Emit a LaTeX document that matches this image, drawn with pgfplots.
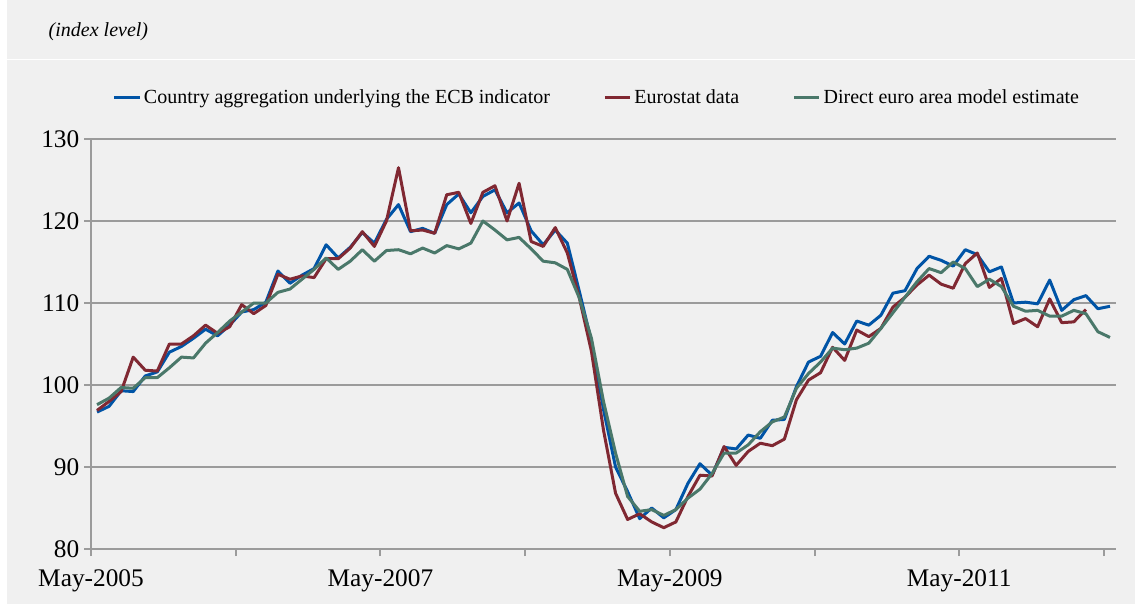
\documentclass[border=0pt]{standalone}
\usepackage{fontspec}
\setmainfont{Liberation Serif}
\usepackage{pgfplots}
\usepackage{pgfplotstable}
\pgfplotsset{compat=1.18}

\definecolor{bgc}{RGB}{240,240,240}
\definecolor{ecbblue}{RGB}{0,84,166}
\definecolor{eured}{RGB}{128,40,50}
\definecolor{modgreen}{RGB}{74,120,106}
\definecolor{gridc}{RGB}{155,155,155}

% month index (0 = May 2005), ECB country aggregation, Eurostat, direct model
\pgfplotstableread{
i  blue  red   green
0  96.7  96.9  97.6
1  97.4  98.0  98.4
2  99.3  99.2  99.7
3  99.2  103.4 99.6
4  101.1 101.8 100.9
5  101.6 101.7 100.9
6  104.0 105.0 102.1
7  104.7 105.0 103.4
8  105.7 106.0 103.3
9  106.8 107.3 105.1
10 106.0 106.3 106.4
11 107.3 107.1 107.8
12 108.9 109.8 108.9
13 109.2 108.7 110.0
14 110.1 109.7 110.0
15 113.9 113.5 111.3
16 112.4 112.9 111.7
17 113.4 113.3 112.9
18 114.2 113.1 114.1
19 117.1 115.4 115.5
20 115.5 115.4 114.1
21 116.8 116.7 115.1
22 118.6 118.7 116.5
23 117.3 116.9 115.1
24 120.2 120.0 116.4
25 122.0 126.5 116.5
26 118.7 118.8 116.0
27 119.1 118.9 116.7
28 118.5 118.5 116.1
29 122.0 123.2 117.0
30 123.3 123.5 116.6
31 121.0 119.7 117.3
32 123.0 123.5 120.0
33 123.8 124.3 118.9
34 121.0 120.0 117.7
35 122.2 124.6 118.0
36 118.8 117.5 116.6
37 117.1 116.9 115.1
38 118.9 119.2 114.9
39 117.3 116.1 114.1
40 111.4 110.6 110.6
41 105.3 104.1 105.7
42 97.0  94.5  98.0
43 90.0  86.8  91.7
44 87.0  83.6  86.4
45 83.7  84.3  84.6
46 85.0  83.3  84.8
47 83.8  82.6  84.1
48 84.8  83.3  84.8
49 88.0  86.4  86.2
50 90.4  89.0  87.3
51 89.0  88.9  89.2
52 92.4  92.5  91.7
53 92.2  90.2  91.7
54 93.9  91.9  92.7
55 93.5  92.9  94.3
56 95.7  92.6  95.5
57 95.8  93.4  96.1
58 99.8  98.2  99.6
59 102.8 100.6 101.4
60 103.5 101.5 102.8
61 106.4 104.6 104.5
62 105.0 103.0 104.3
63 107.8 106.7 104.5
64 107.3 105.9 105.1
65 108.5 106.9 106.9
66 111.2 109.5 108.8
67 111.5 110.7 110.7
68 114.2 112.2 112.6
69 115.7 113.4 114.2
70 115.2 112.3 113.7
71 114.5 111.8 115.0
72 116.5 114.8 114.2
73 115.9 116.1 112.0
74 113.8 111.9 112.9
75 114.4 113.0 112.0
76 110.0 107.5 109.6
77 110.1 108.1 109.0
78 109.9 107.1 109.1
79 112.8 110.5 108.4
80 109.1 107.6 108.4
81 110.4 107.7 109.1
82 110.9 109.2 108.7
83 109.3 nan   106.5
84 109.6 nan   105.8
}\indexdata

\begin{document}
\begin{tikzpicture}
\useasboundingbox (0,0) rectangle (851.25pt,453pt);
\fill[bgc] (5.25pt,0) rectangle (851.25pt,453pt);
\draw[white, line width=0.75pt] (5.25pt,408.4pt) -- (851.25pt,408.4pt);
\node[anchor=west, font=\fontsize{15}{18}\selectfont\itshape] at (33pt,429pt) {(index level)};

\begin{axis}[
  at={(68.25pt,41.25pt)}, anchor=south west,
  scale only axis, width=768.75pt, height=307.5pt,
  xmin=0, xmax=85, ymin=80, ymax=130,
  axis lines*=left,
  axis line style={gridc, line width=1.5pt},
  ytick={80,90,...,130},
  xtick={0,12,...,84},
  xticklabels={May-2005,,May-2007,,May-2009,,May-2011,},
  ymajorgrids, grid style={gridc, line width=1.5pt},
  tick align=outside, major tick length=5.25pt,
  tick style={gridc, line width=1.5pt},
  ticklabel style={font=\fontsize{19}{22}\selectfont},
  /pgf/number format/assume math mode=true,
  xticklabel style={yshift=-7pt},
  yticklabel style={xshift=0pt},
  legend style={draw=none, fill=none, at={(0.494,1.102)}, anchor=center,
    font=\fontsize{15}{18}\selectfont,
    /tikz/every even column/.append style={column sep=38pt}},
  legend columns=3,
  legend image code/.code={\draw[#1] (0pt,0pt) -- (19pt,0pt);},
  every axis plot/.append style={line width=2.25pt, line join=round},
]
\addplot[ecbblue] table[x expr=\thisrow{i}+0.5, y=blue] {\indexdata};
\addplot[eured] table[x expr=\thisrow{i}+0.5, y=red] {\indexdata};
\addplot[modgreen] table[x expr=\thisrow{i}+0.5, y=green] {\indexdata};
\legend{Country aggregation underlying the ECB indicator, Eurostat data, Direct euro area model estimate}
\end{axis}
\end{tikzpicture}
\end{document}
